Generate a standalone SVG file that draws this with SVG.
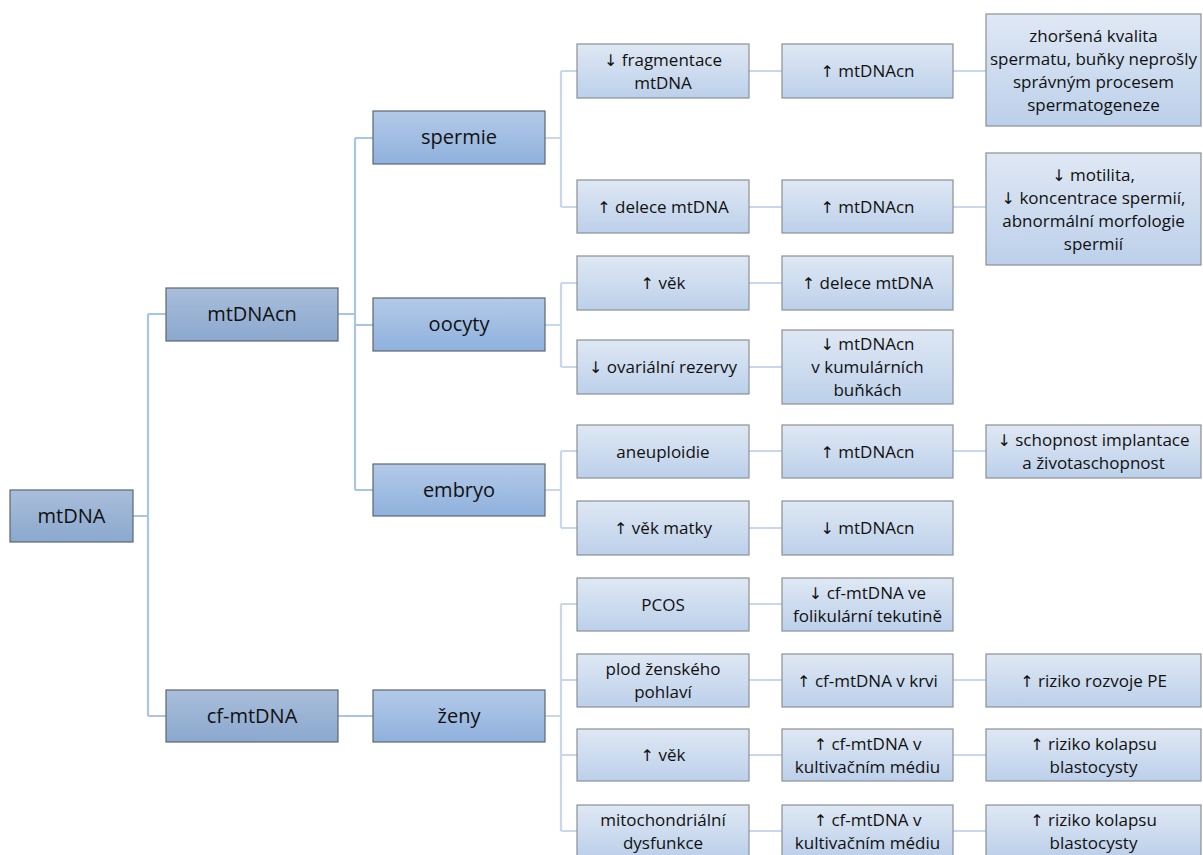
<svg xmlns="http://www.w3.org/2000/svg" width="1203" height="855" viewBox="0 0 1203 855">
<defs>
<linearGradient id="gDark" x1="0" y1="0" x2="0" y2="1"><stop offset="0" stop-color="#a9bedb"/><stop offset="1" stop-color="#8ba8ce"/></linearGradient>
<linearGradient id="gMid" x1="0" y1="0" x2="0" y2="1"><stop offset="0" stop-color="#b3cae8"/><stop offset="1" stop-color="#8fb1dd"/></linearGradient>
<linearGradient id="gLight" x1="0" y1="0" x2="0" y2="1"><stop offset="0" stop-color="#dfe8f4"/><stop offset="1" stop-color="#bcd0ea"/></linearGradient>
</defs>
<style>
.d{fill:url(#gDark);stroke:#5d6670;stroke-width:1.2}
.m{fill:url(#gMid);stroke:#5d6670;stroke-width:1.2}
.l{fill:url(#gLight);stroke:#8a9098;stroke-width:1.2}
.tb{font-family:"Open Sans","Liberation Sans",sans-serif;font-size:20px;fill:#111;text-anchor:middle}
.ts{font-family:"Open Sans","Liberation Sans",sans-serif;font-size:17px;fill:#111;text-anchor:middle}
.a{font-family:"DejaVu Sans",sans-serif;font-size:16px;fill:#111}
.c1{fill:none;stroke:#a9c5e6;stroke-width:2.2}
.c2{fill:none;stroke:#c7d8ed;stroke-width:2.2}
</style>
<rect width="1203" height="855" fill="#ffffff"/>
<g id="connectors">
<path class="c1" d="M133 516H148M148 314V716M148 314H166M148 716H166"/>
<path class="c1" d="M338 314H355M355 138V490M355 138H373M355 325H373M355 490H373M338 716H373"/>
<path class="c2" d="M545 138H561M561 71V207M561 71H577M561 207H577"/>
<path class="c2" d="M545 325H561M561 283V367M561 283H577M561 367H577"/>
<path class="c2" d="M545 490H561M561 451V528M561 451H577M561 528H577"/>
<path class="c2" d="M545 716H561M561 604V831M561 604H577M561 680H577M561 755H577M561 831H577"/>
<path class="c2" d="M749 71H782M749 207H782M749 283H782M749 367H782M749 451H782M749 528H782M749 604H782M749 680H782M749 755H782M749 831H782"/>
<path class="c2" d="M953 71H986M953 207H986M953 451H986M953 680H986M953 755H986M953 831H986"/>
</g>
<g id="n-mtDNA"><rect class="d" x="10" y="490" width="123" height="52"/><text class="tb" x="71.5" y="523">mtDNA</text></g>
<g id="n-mtDNAcn"><rect class="d" x="166" y="288" width="172" height="53"/><text class="tb" x="252" y="321">mtDNAcn</text></g>
<g id="n-cfmtDNA"><rect class="d" x="166" y="690" width="172" height="52"/><text class="tb" x="252" y="723">cf-mtDNA</text></g>
<g id="n-spermie"><rect class="m" x="373" y="111" width="172" height="53"/><text class="tb" x="459" y="144">spermie</text></g>
<g id="n-oocyty"><rect class="m" x="373" y="298" width="172" height="53"/><text class="tb" x="459" y="331">oocyty</text></g>
<g id="n-embryo"><rect class="m" x="373" y="464" width="172" height="52"/><text class="tb" x="459" y="497">embryo</text></g>
<g id="n-zeny"><rect class="m" x="373" y="690" width="172" height="52"/><text class="tb" x="459" y="723">ženy</text></g>

<g id="n-fragmentace"><rect class="l" x="577" y="44" width="172" height="54"/><text class="ts" x="663" y="65.5"><tspan class="a">↓</tspan> fragmentace</text><text class="ts" x="663" y="88.5">mtDNA</text></g>
<g id="n-delece"><rect class="l" x="577" y="180" width="172" height="53"/><text class="ts" x="663" y="212.5"><tspan class="a">↑</tspan> delece mtDNA</text></g>
<g id="n-vek1"><rect class="l" x="577" y="256" width="172" height="54"/><text class="ts" x="663" y="289"><tspan class="a">↑</tspan> věk</text></g>
<g id="n-ovarialni"><rect class="l" x="577" y="340" width="172" height="54"/><text class="ts" x="663" y="373"><tspan class="a">↓</tspan> ovariální rezervy</text></g>
<g id="n-aneuploidie"><rect class="l" x="577" y="425" width="172" height="53"/><text class="ts" x="663" y="457.5">aneuploidie</text></g>
<g id="n-vekmatky"><rect class="l" x="577" y="501" width="172" height="54"/><text class="ts" x="663" y="534"><tspan class="a">↑</tspan> věk matky</text></g>
<g id="n-pcos"><rect class="l" x="577" y="578" width="172" height="53"/><text class="ts" x="663" y="610.5">PCOS</text></g>
<g id="n-plod"><rect class="l" x="577" y="654" width="172" height="53"/><text class="ts" x="663" y="675">plod ženského</text><text class="ts" x="663" y="698">pohlaví</text></g>
<g id="n-vek2"><rect class="l" x="577" y="729" width="172" height="52"/><text class="ts" x="663" y="761"><tspan class="a">↑</tspan> věk</text></g>
<g id="n-mito"><rect class="l" x="577" y="805" width="172" height="52"/><text class="ts" x="663" y="825.5">mitochondriální</text><text class="ts" x="663" y="848.5">dysfunkce</text></g>

<g id="n-mtDNAcn1"><rect class="l" x="782" y="44" width="171" height="54"/><text class="ts" x="867.5" y="77"><tspan class="a">↑</tspan> mtDNAcn</text></g>
<g id="n-mtDNAcn2"><rect class="l" x="782" y="180" width="171" height="53"/><text class="ts" x="867.5" y="212.5"><tspan class="a">↑</tspan> mtDNAcn</text></g>
<g id="n-delece2"><rect class="l" x="782" y="256" width="171" height="54"/><text class="ts" x="867.5" y="289"><tspan class="a">↑</tspan> delece mtDNA</text></g>
<g id="n-kumularni"><rect class="l" x="782" y="330" width="171" height="74"/><text class="ts" x="867.5" y="350"><tspan class="a">↓</tspan> mtDNAcn</text><text class="ts" x="867.5" y="373">v kumulárních</text><text class="ts" x="867.5" y="396">buňkách</text></g>
<g id="n-mtDNAcn3"><rect class="l" x="782" y="425" width="171" height="53"/><text class="ts" x="867.5" y="457.5"><tspan class="a">↑</tspan> mtDNAcn</text></g>
<g id="n-mtDNAcn4"><rect class="l" x="782" y="501" width="171" height="54"/><text class="ts" x="867.5" y="534"><tspan class="a">↓</tspan> mtDNAcn</text></g>
<g id="n-folikularni"><rect class="l" x="782" y="578" width="171" height="53"/><text class="ts" x="867.5" y="599"><tspan class="a">↓</tspan> cf-mtDNA ve</text><text class="ts" x="867.5" y="622">folikulární tekutině</text></g>
<g id="n-krvi"><rect class="l" x="782" y="654" width="171" height="53"/><text class="ts" x="867.5" y="686.5"><tspan class="a">↑</tspan> cf-mtDNA v krvi</text></g>
<g id="n-medium1"><rect class="l" x="782" y="729" width="171" height="52"/><text class="ts" x="867.5" y="749.5"><tspan class="a">↑</tspan> cf-mtDNA v</text><text class="ts" x="867.5" y="772.5">kultivačním médiu</text></g>
<g id="n-medium2"><rect class="l" x="782" y="805" width="171" height="52"/><text class="ts" x="867.5" y="825.5"><tspan class="a">↑</tspan> cf-mtDNA v</text><text class="ts" x="867.5" y="848.5">kultivačním médiu</text></g>

<g id="n-kvalita"><rect class="l" x="986" y="14" width="215" height="112"/><text class="ts" x="1093.5" y="41.5">zhoršená kvalita</text><text class="ts" x="1093.5" y="64.5">spermatu, buňky neprošly</text><text class="ts" x="1093.5" y="87.5">správným procesem</text><text class="ts" x="1093.5" y="110.5">spermatogeneze</text></g>
<g id="n-motilita"><rect class="l" x="986" y="153" width="215" height="112"/><text class="ts" x="1093.5" y="180.5"><tspan class="a">↓</tspan> motilita,</text><text class="ts" x="1093.5" y="203.5"><tspan class="a">↓</tspan> koncentrace spermií,</text><text class="ts" x="1093.5" y="226.5">abnormální morfologie</text><text class="ts" x="1093.5" y="249.5">spermií</text></g>
<g id="n-implantace"><rect class="l" x="986" y="425" width="215" height="53"/><text class="ts" x="1093.5" y="446"><tspan class="a">↓</tspan> schopnost implantace</text><text class="ts" x="1093.5" y="469">a životaschopnost</text></g>
<g id="n-rozvojPE"><rect class="l" x="986" y="654" width="215" height="53"/><text class="ts" x="1093.5" y="686.5"><tspan class="a">↑</tspan> riziko rozvoje PE</text></g>
<g id="n-kolaps1"><rect class="l" x="986" y="729" width="215" height="52"/><text class="ts" x="1093.5" y="749.5"><tspan class="a">↑</tspan> riziko kolapsu</text><text class="ts" x="1093.5" y="772.5">blastocysty</text></g>
<g id="n-kolaps2"><rect class="l" x="986" y="805" width="215" height="52"/><text class="ts" x="1093.5" y="825.5"><tspan class="a">↑</tspan> riziko kolapsu</text><text class="ts" x="1093.5" y="848.5">blastocysty</text></g>
</svg>
